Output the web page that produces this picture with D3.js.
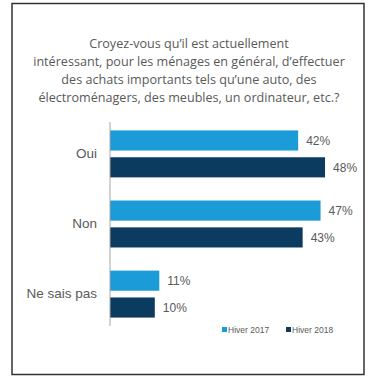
<!DOCTYPE html>
<html>
<head>
<meta charset="UTF-8">
<script src="https://d3js.org/d3.v7.min.js"></script>
<style>
  body { margin: 0; background: #fff; }
</style>
</head>
<body>
<svg></svg>
<script>
const width = 373, height = 380;

const titleLines = [
  "Croyez-vous qu’il est actuellement",
  "intéressant, pour les ménages en général, d’effectuer",
  "des achats importants tels qu’une auto, des",
  "électroménagers, des meubles, un ordinateur, etc.?"
];
const categories = ["Oui", "Non", "Ne sais pas"];
const seriesNames = ["Hiver 2017", "Hiver 2018"];
const hiver2017 = [42, 47, 11];
const hiver2018 = [48, 43, 10];
const colors = ["#1b9bd7", "#0c3b60"];

const data = categories.map((c, i) => ({cat: c, values: [hiver2017[i], hiver2018[i]]}));

const svg = d3.select("svg").attr("width", width).attr("height", height);

// frame
svg.append("rect")
  .attr("x", 12).attr("y", 3.5)
  .attr("width", 352).attr("height", 371)
  .attr("fill", "none").attr("stroke", "#333").attr("stroke-width", 1.5);

svg.append("g")
  .attr("font-family", "'Open Sans', sans-serif")
  .attr("font-size", 12.6)
  .attr("fill", "#595959")
  .attr("text-anchor", "middle")
  .selectAll("text")
  .data(titleLines)
  .join("text")
    .attr("x", 189)
    .attr("y", (d, i) => 48 + i * 18)
    .text(d => d);

const x = d3.scaleLinear().domain([0, 100]).range([110, 558]);

const y = d3.scaleBand().domain(categories).range([122, 326]).paddingInner(0.33).paddingOuter(0.12);
const ySub = d3.scaleBand().domain([0, 1]).range([0, y.bandwidth()]).paddingInner(0.25);

const g = svg.append("g").selectAll("g")
  .data(data)
  .join("g")
    .attr("transform", d => `translate(0,${y(d.cat)})`);

g.selectAll("rect")
  .data(d => d.values)
  .join("rect")
    .attr("x", x(0))
    .attr("y", (d, i) => ySub(i))
    .attr("width", d => x(d) - x(0))
    .attr("height", ySub.bandwidth())
    .attr("fill", (d, i) => colors[i]);

g.selectAll("text")
  .data(d => d.values)
  .join("text")
    .attr("x", d => x(d) + 8)
    .attr("y", (d, i) => ySub(i) + ySub.bandwidth() / 2)
    .attr("dy", "0.35em")
    .attr("font-family", "Arial, 'Liberation Sans', sans-serif")
    .attr("font-size", 12)
    .attr("fill", "#595959")
    .text(d => d + "%");

// axis
svg.append("g")
  .attr("transform", `translate(${x(0)},0)`)
  .call(d3.axisLeft(y).tickSize(0).tickPadding(13))
  .call(g => g.select(".domain").attr("stroke", "#a6a6a6").attr("d", "M0,122V326"))
  .call(g => g.selectAll("text")
    .attr("font-family", "Arial, 'Liberation Sans', sans-serif")
    .attr("font-size", 13.5)
    .attr("fill", "#595959"));

// legend
const legend = svg.append("g")
  .attr("font-family", "Arial, 'Liberation Sans', sans-serif")
  .attr("font-size", 8.5)
  .attr("fill", "#595959");
const legX = [222, 286];
seriesNames.forEach((s, i) => {
  legend.append("rect")
    .attr("x", legX[i]).attr("y", 327)
    .attr("width", 5).attr("height", 5)
    .attr("fill", colors[i]);
  legend.append("text")
    .attr("x", legX[i] + 6).attr("y", 332.5)
    .text(s);
});
</script>
</body>
</html>
